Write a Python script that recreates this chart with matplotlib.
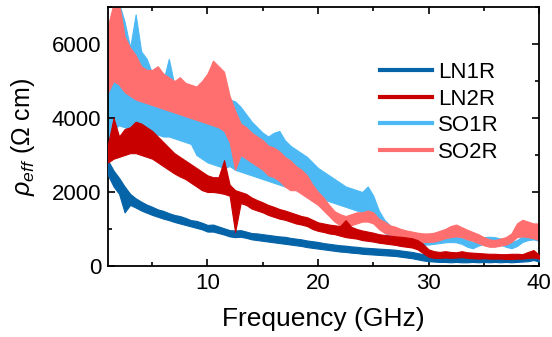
import numpy as np
import matplotlib
matplotlib.use('agg')
import matplotlib.pyplot as plt
from matplotlib.lines import Line2D
from matplotlib.ticker import MultipleLocator

plt.rcParams['font.family'] = ['Liberation Sans', 'DejaVu Sans']
plt.rcParams['mathtext.fontset'] = 'custom'
plt.rcParams['mathtext.rm'] = 'Liberation Sans'
plt.rcParams['mathtext.it'] = 'Liberation Sans:italic'

# frequency samples (GHz), 0.5 GHz apart from 1 to 40
freq = np.arange(1.0, 40.01, 0.5)

# each series is a noisy band: lower / upper edge (Ohm cm)
ln1r_lo = [2450, 2150, 1950, 1450, 1650, 1580, 1500, 1440, 1380, 1330,
           1280, 1240, 1190, 1150, 1110, 1070, 1030, 990, 930, 930,
           890, 850, 800, 780, 790, 760, 720, 700, 680, 660,
           640, 620, 600, 580, 560, 540, 510, 490, 470, 450,
           430, 410, 390, 380, 360, 350, 330, 320, 310, 300,
           290, 280, 270, 250, 230, 210, 180, 150, 130, 120,
           110, 110, 100, 110, 100, 100, 110, 100, 110, 100,
           110, 100, 110, 100, 110, 120, 130, 160, 120]
ln1r_hi = [2850, 2580, 2380, 2150, 1950, 1830, 1740, 1660, 1600, 1530,
           1490, 1430, 1380, 1350, 1300, 1240, 1220, 1170, 1110, 1120,
           1070, 1020, 970, 960, 970, 930, 890, 880, 860, 840,
           820, 800, 790, 760, 740, 720, 690, 670, 650, 620,
           600, 580, 560, 550, 530, 520, 500, 490, 480, 470,
           460, 450, 440, 420, 400, 380, 350, 320, 300, 290,
           280, 280, 270, 280, 270, 260, 270, 260, 270, 260,
           270, 260, 270, 260, 270, 280, 300, 330, 290]

ln2r_lo = [2800, 2900, 2950, 3000, 3050, 3050, 3000, 2950, 2900, 2800,
           2700, 2600, 2500, 2420, 2350, 2250, 2150, 2050, 2000, 2000,
           1980, 1950, 1900, 920, 1700, 1650, 1550, 1500, 1450, 1380,
           1330, 1280, 1250, 1200, 1150, 1120, 1080, 1000, 950, 920,
           880, 860, 820, 780, 760, 740, 700, 680, 660, 630,
           610, 590, 570, 540, 520, 500, 450, 350, 250, 220,
           220, 230, 220, 230, 240, 220, 210, 200, 210, 200,
           200, 200, 190, 190, 200, 200, 220, 230, 200]
ln2r_hi = [3300, 4000, 3500, 3700, 3750, 3900, 3850, 3750, 3650, 3500,
           3350, 3200, 3050, 2950, 2850, 2750, 2650, 2550, 2450, 2400,
           2400, 2860, 2200, 2050, 2000, 1950, 1850, 1780, 1720, 1650,
           1600, 1540, 1500, 1450, 1400, 1350, 1320, 1250, 1180, 1150,
           1120, 1100, 1080, 1240, 1060, 1000, 960, 930, 900, 860,
           840, 820, 800, 790, 770, 750, 700, 600, 450, 400,
           380, 400, 380, 370, 400, 370, 360, 350, 340, 330,
           330, 320, 320, 330, 330, 320, 380, 430, 300]

so1r_lo = [2950, 3700, 3800, 3750, 3700, 3650, 3600, 3600, 3550, 3550,
           3500, 3500, 3450, 3400, 3350, 3300, 3000, 2900, 2800, 2750,
           2700, 2650, 2700, 2600, 2550, 2500, 2450, 2400, 2350, 2300,
           2250, 2200, 2150, 2100, 2050, 2000, 1950, 1900, 1850, 1800,
           1750, 1700, 1650, 1600, 1550, 1500, 1450, 1400, 1350, 1100,
           900, 800, 720, 680, 650, 620, 600, 580, 580, 600,
           620, 640, 650, 640, 600, 520, 480, 550, 600, 620,
           620, 580, 520, 480, 540, 650, 700, 720, 680]
so1r_hi = [4800, 5600, 7100, 6600, 5900, 6800, 5800, 5600, 5200, 5100,
           5000, 5600, 4900, 5100, 4800, 4700, 4600, 4500, 4400, 4400,
           4500, 4600, 4500, 4450, 4300, 4100, 3900, 3750, 3600, 3500,
           3600, 3650, 3400, 3250, 3150, 3050, 2950, 2800, 2650, 2550,
           2450, 2350, 2250, 2150, 2100, 2050, 2000, 2150, 1900, 1500,
           1250, 1100, 950, 880, 850, 820, 800, 780, 760, 780,
           800, 820, 820, 800, 760, 700, 650, 720, 780, 790,
           780, 740, 680, 640, 700, 800, 850, 880, 850]

so2r_lo = [4700, 5000, 4900, 4700, 4600, 4500, 4450, 4400, 4350, 4300,
           4250, 4200, 4150, 4100, 4050, 4000, 3950, 3900, 3850, 3800,
           3750, 3650, 3350, 2600, 3000, 2900, 2800, 2700, 2600, 2450,
           2400, 2300, 2150, 2050, 2050, 1950, 1850, 1750, 1650, 1500,
           1350, 1200, 1100, 1050, 1100, 1150, 1200, 1200, 1150, 1000,
           900, 850, 800, 760, 700, 680, 660, 650, 650, 660,
           700, 750, 780, 800, 780, 720, 680, 620, 560, 520,
           520, 550, 580, 650, 780, 800, 780, 750, 700]
so2r_hi = [6500, 7100, 7100, 6200, 5900, 5700, 5400, 5300, 5300, 5400,
           5200, 5100, 5000, 5100, 4950, 4900, 4850, 5000, 5200, 5550,
           5400, 5250, 4600, 4200, 3850, 3750, 3600, 3500, 3400, 3250,
           3200, 3100, 2950, 2850, 2700, 2600, 2450, 2200, 2000, 1850,
           1650, 1480, 1400, 1350, 1400, 1450, 1450, 1500, 1450, 1280,
           1200, 1100, 1060, 1000, 960, 930, 900, 880, 880, 900,
           950, 1000, 1080, 1120, 1050, 980, 920, 860, 780, 720,
           700, 740, 780, 880, 1150, 1250, 1200, 1150, 1150]

names = ['LN1R', 'LN2R', 'SO1R', 'SO2R']
colors = ['#0563a8', '#c80000', '#4cb9f5', '#ff6f6f']

fig = plt.figure(figsize=(5.52, 3.37), dpi=100)
ax = fig.add_axes([0.1957, 0.2107, 0.7808, 0.7685])

bands = [(so1r_lo, so1r_hi, colors[2], 1),
         (so2r_lo, so2r_hi, colors[3], 2),
         (ln1r_lo, ln1r_hi, colors[0], 3),
         (ln2r_lo, ln2r_hi, colors[1], 4)]
for lo, hi, c, z in bands:
    ax.fill_between(freq, lo, hi, color=c, lw=0.8, edgecolor=c, zorder=z)

ax.set_xlim(1, 40)
ax.set_ylim(0, 7000)
ax.set_xticks([10, 20, 30, 40])
ax.set_yticks([0, 2000, 4000, 6000])
ax.xaxis.set_minor_locator(MultipleLocator(5))
ax.yaxis.set_minor_locator(MultipleLocator(1000))
ax.tick_params(which='both', direction='in', top=True, right=True, width=1.2)
ax.tick_params(which='major', length=5, labelsize=16, pad=5)
ax.tick_params(which='minor', length=3)
for s in ax.spines.values():
    s.set_linewidth(1.3)

ax.set_xlabel('Frequency (GHz)', fontsize=19)
ax.set_ylabel(r'$\rho_{eff}$ ($\Omega$ cm)', fontsize=18)
ax.xaxis.set_label_coords(0.5, -0.16)
ax.yaxis.set_label_coords(-0.165, 0.5)

handles = [Line2D([], [], color=c, lw=3) for c in colors]
ax.legend(handles, names, loc='center left', bbox_to_anchor=(0.631, 0.593),
          frameon=False, fontsize=16, borderpad=0, borderaxespad=0,
          handlelength=2.35, handletextpad=0.25, labelspacing=0.25)

fig.savefig('out.png', dpi=100)
plt.close(fig)
